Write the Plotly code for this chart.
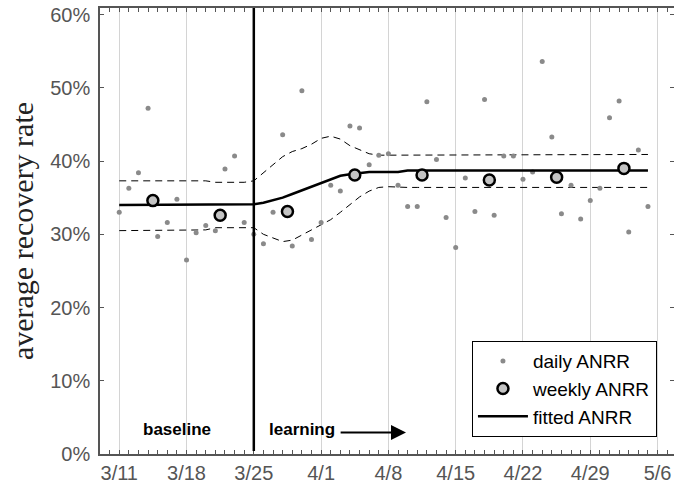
import datetime as dt
import plotly.graph_objects as go

# ---------------- data ----------------
START = dt.date(2013, 3, 11)
LEARNING_START = "2013-03-25"

daily_values = [33.0, 36.3, 38.4, 47.2, 29.7, 31.6, 34.8, 26.5, 30.2, 31.2,
                30.5, 38.9, 40.7, 31.6, 30.0, 28.7, 33.0, 43.6, 28.4, 49.6,
                29.3, 31.6, 36.7, 35.9, 44.8, 44.5, 39.5, 40.8, 41.0, 36.7,
                33.8, 33.8, 48.1, 40.2, 32.3, 28.2, 37.7, 33.1, 48.4, 32.6,
                40.7, 40.7, 37.5, 38.5, 53.6, 43.3, 32.8, 36.7, 32.1, 34.6,
                36.3, 45.9, 48.2, 30.3, 41.5, 33.8]

weekly_dates = ["2013-03-14 12:00", "2013-03-21 12:00", "2013-03-28 12:00",
                "2013-04-04 12:00", "2013-04-11 12:00", "2013-04-18 12:00",
                "2013-04-25 12:00", "2013-05-02 12:00"]
weekly_values = [34.6, 32.6, 33.1, 38.1, 38.1, 37.4, 37.8, 39.0]

fitted_values = [34.0, 34.0, 34.0, 34.0, 34.0, 34.0, 34.0, 34.0, 34.0, 34.0,
                 34.0, 34.0, 34.0, 34.1, 34.1, 34.3, 34.6, 35.0, 35.5, 36.0,
                 36.6, 37.1, 37.6, 38.0, 38.2, 38.4, 38.5, 38.5, 38.5, 38.5,
                 38.7, 38.7, 38.7, 38.7, 38.7, 38.7, 38.7, 38.7, 38.7, 38.7,
                 38.7, 38.7, 38.7, 38.7, 38.7, 38.7, 38.7, 38.7, 38.7, 38.7,
                 38.7, 38.7, 38.7, 38.7, 38.7, 38.7]

upper_values = [37.3, 37.3, 37.3, 37.3, 37.3, 37.3, 37.3, 37.3, 37.3, 37.3,
                37.1, 37.1, 37.1, 37.1, 37.3, 38.4, 39.6, 40.6, 41.3, 41.7,
                42.3, 43.1, 43.4, 43.0, 42.1, 41.5, 41.0, 40.8, 40.8, 40.8,
                40.9, 40.9, 40.9, 40.9, 40.9, 40.9, 40.9, 40.9, 40.9, 40.9,
                40.9, 40.9, 40.9, 40.9, 40.9, 40.9, 40.9, 40.9, 40.9, 40.9,
                40.9, 40.9, 40.9, 40.9, 40.9, 40.9]

lower_values = [30.5, 30.5, 30.5, 30.5, 30.5, 30.5, 30.5, 30.6, 30.6, 30.6,
                30.9, 30.9, 30.9, 30.9, 30.9, 30.0, 29.5, 29.0, 29.2, 29.9,
                30.7, 31.4, 32.0, 33.0, 34.1, 35.1, 35.9, 36.4, 36.5, 36.4,
                36.4, 36.4, 36.4, 36.4, 36.4, 36.4, 36.4, 36.4, 36.4, 36.4,
                36.4, 36.4, 36.4, 36.4, 36.4, 36.4, 36.4, 36.4, 36.4, 36.4,
                36.4, 36.4, 36.4, 36.4, 36.4, 36.4]

daily_dates = [(START + dt.timedelta(days=i)).isoformat() for i in range(len(daily_values))]

def pct(vals):
    return [v / 100 for v in vals]

# ---------------- figure ----------------
fig = go.Figure()

fig.add_trace(go.Scatter(x=daily_dates, y=pct(upper_values), mode="lines",
                         line=dict(color="black", width=1, dash="7px,5px"),
                         showlegend=False, hoverinfo="skip"))
fig.add_trace(go.Scatter(x=daily_dates, y=pct(lower_values), mode="lines",
                         line=dict(color="black", width=1, dash="7px,5px"),
                         showlegend=False, hoverinfo="skip"))

fig.add_trace(go.Scatter(x=daily_dates, y=pct(daily_values), mode="markers",
                         name="daily ANRR",
                         marker=dict(color="#8a8a8a", size=5, line=dict(width=0))))
fig.add_trace(go.Scatter(x=daily_dates, y=pct(fitted_values), mode="lines",
                         name="fitted ANRR", line=dict(color="black", width=2.5),
                         showlegend=False))
fig.add_trace(go.Scatter(x=weekly_dates, y=pct(weekly_values), mode="markers",
                         name="weekly ANRR",
                         marker=dict(color="#c4c4c4", size=11,
                                     line=dict(color="black", width=2.5))))
# legend entry for fitted line (keeps legend order)
fig.add_trace(go.Scatter(x=[None], y=[None], mode="lines", name="fitted ANRR",
                         line=dict(color="black", width=2.5)))

fig.add_shape(type="line", xref="x", yref="paper", x0=LEARNING_START, x1=LEARNING_START,
              y0=0.007, y1=1, line=dict(color="black", width=2.5))

fig.add_annotation(x="2013-03-17", y=0.054, xref="x", yref="paper", text="<b>baseline</b>",
                   showarrow=False, font=dict(family="Liberation Sans", size=17, color="black"),
                   xanchor="center", yanchor="middle")
fig.add_annotation(x="2013-03-26 10:00", y=0.054, xref="x", yref="paper", text="<b>learning</b>",
                   showarrow=False, font=dict(family="Liberation Sans", size=17, color="black"),
                   xanchor="left", yanchor="middle")
fig.add_annotation(x="2013-04-09 20:00", y=0.048, xref="x", yref="paper",
                   ax="2013-04-02 21:00", ay=0, axref="x", ayref="pixel",
                   text="", showarrow=True, arrowhead=2, arrowsize=1.5, arrowwidth=2,
                   arrowcolor="black")

axis_color = "#555555"
fig.update_layout(
    width=674, height=484,
    margin=dict(l=100, r=0, t=8, b=30, autoexpand=False),
    plot_bgcolor="white", paper_bgcolor="white",
    font=dict(family="Liberation Sans", color=axis_color),
    xaxis=dict(
        type="date",
        range=["2013-03-09", "2013-05-07 17:00"],
        tick0="2013-03-11", dtick=7 * 86400000,
        tickformat="%-m/%-d",
        ticks="inside", ticklen=4, tickcolor=axis_color,
        showgrid=True, gridcolor="#d4d4d4", gridwidth=1,
        showline=True, linecolor=axis_color, linewidth=1.5, mirror="ticks",
        tickfont=dict(size=20, color=axis_color),
        minor=dict(dtick=86400000, tick0="2013-03-11", ticks="inside", ticklen=4,
                   tickcolor=axis_color, showgrid=False),
        zeroline=False, automargin=False,
    ),
    yaxis=dict(
        range=[0, 0.609],
        tickvals=[0, 0.1, 0.2, 0.3, 0.4, 0.5, 0.6],
        tickformat=".0%",
        ticks="inside", ticklen=4, tickcolor=axis_color,
        showgrid=False, zeroline=False,
        showline=True, linecolor=axis_color, linewidth=1.5, mirror="ticks",
        tickfont=dict(size=20, color=axis_color),
        ticklabelstandoff=4, automargin=False,
        title=dict(text="average recovery rate",
                   font=dict(family="Liberation Serif", size=30, color="#222222"),
                   standoff=8),
    ),
    legend=dict(
        x=0.648, y=0.038, xanchor="left", yanchor="bottom",
        bgcolor="white", bordercolor="black", borderwidth=1,
        font=dict(family="Liberation Sans", size=19, color="black"),
        itemwidth=50, tracegroupgap=0,
    ),
    showlegend=True,
)

fig.write_html("out.html",
               config={"displayModeBar": False},
               post_script="document.body.style.margin='0';document.body.style.overflow='hidden';")
